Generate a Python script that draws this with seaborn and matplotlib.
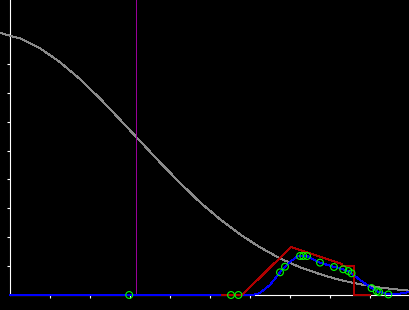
import matplotlib
matplotlib.use("Agg")
import matplotlib.pyplot as plt
import seaborn as sns
import pandas as pd

# ---- data ----
gray_x = [-0.25, 0.25, 0.75, 1.25, 1.75, 2.25, 2.75, 3.25, 3.75, 4.25, 4.75,
          5.25, 5.75, 6.25, 6.75, 7.25, 7.75, 8.25, 8.75, 9.25, 9.75, 10.0]
gray_y = [9.07, 8.88, 8.54, 8.06, 7.47, 6.80, 6.07, 5.33, 4.59, 3.88, 3.21,
          2.62, 2.10, 1.65, 1.27, 0.96, 0.72, 0.52, 0.37, 0.26, 0.18, 0.15]

purple_x = 3.16

red_x = [5.30, 5.80, 7.025, 8.30, 8.30, 8.60, 8.60, 9.00]
red_y = [0.00, 0.00, 1.66, 1.07, 1.00, 1.00, 0.00, 0.00]

blue_x = [0.0, 6.075, 6.25, 6.50, 6.75, 6.875, 7.00, 7.20, 7.425, 7.75, 8.10,
          8.33, 8.46, 8.54, 8.75, 9.04, 9.17, 9.25, 9.45, 9.75, 10.0]
blue_y = [0.0, 0.00, 0.07, 0.35, 0.785, 0.98, 1.15, 1.35, 1.35, 1.12, 0.97,
          0.89, 0.83, 0.75, 0.52, 0.24, 0.13, 0.10, 0.03, 0.05, 0.11]

pts_x = [2.98, 5.525, 5.71, 6.75, 6.875, 7.25, 7.33, 7.425, 7.75, 8.10,
         8.33, 8.46, 8.54, 9.04, 9.17, 9.23, 9.46]
pts_y = [0.00, 0.00, 0.00, 0.785, 0.98, 1.35, 1.35, 1.35, 1.12, 0.97,
         0.89, 0.83, 0.75, 0.24, 0.13, 0.10, 0.02]

x_ticks = [1, 2, 3, 4, 5, 6, 7, 8, 9]
y_ticks = [1, 2, 3, 4, 5, 6, 7, 8, 9]

XMIN, XMAX = -0.25, 10.0
YMIN, YMAX = -0.519, 10.21

plt.rcParams['lines.antialiased'] = False

fig = plt.figure(figsize=(4.1, 3.1), dpi=100, facecolor='black')
ax = fig.add_axes([0, 0, 1, 1])
ax.set_facecolor('black')

gray_df = pd.DataFrame({'x': gray_x, 'y': gray_y})
red_df = pd.DataFrame({'x': red_x, 'y': red_y})
blue_df = pd.DataFrame({'x': blue_x, 'y': blue_y})
pts_df = pd.DataFrame({'x': pts_x, 'y': pts_y})

sns.lineplot(data=gray_df, x='x', y='y', ax=ax, color='#8a8a8a', linewidth=0.7,
             sort=False, estimator=None, zorder=3)
ax.vlines(purple_x, 0, YMAX, color='#990099', linewidth=0.7, zorder=3)
sns.lineplot(data=blue_df, x='x', y='y', ax=ax, color='#0000ff', linewidth=0.7,
             sort=False, estimator=None, zorder=4)
sns.lineplot(data=red_df, x='x', y='y', ax=ax, color='#b00000', linewidth=0.7,
             sort=False, estimator=None, zorder=5)
sns.scatterplot(data=pts_df, x='x', y='y', ax=ax, marker='o', s=24,
                facecolor='none', edgecolor='#00ff00', linewidth=0.8, zorder=6)

ax.set_xlim(XMIN, XMAX)
ax.set_ylim(YMIN, YMAX)
ax.set_xticks(x_ticks)
ax.set_yticks(y_ticks)
ax.set_xlabel('')
ax.set_ylabel('')
ax.tick_params(colors='white', length=2.5, width=0.8, direction='out',
               labelbottom=False, labelleft=False)
for s in ['top', 'right']:
    ax.spines[s].set_visible(False)
ax.spines['left'].set_position(('data', 0))
ax.spines['bottom'].set_position(('data', 0))
ax.spines['left'].set_bounds(0, YMAX)
ax.spines['bottom'].set_bounds(0, XMAX)
for s in ['left', 'bottom']:
    ax.spines[s].set_color('white')
    ax.spines[s].set_linewidth(0.8)
    ax.spines[s].set_zorder(2)

fig.savefig('out.png', dpi=100, facecolor='black')
